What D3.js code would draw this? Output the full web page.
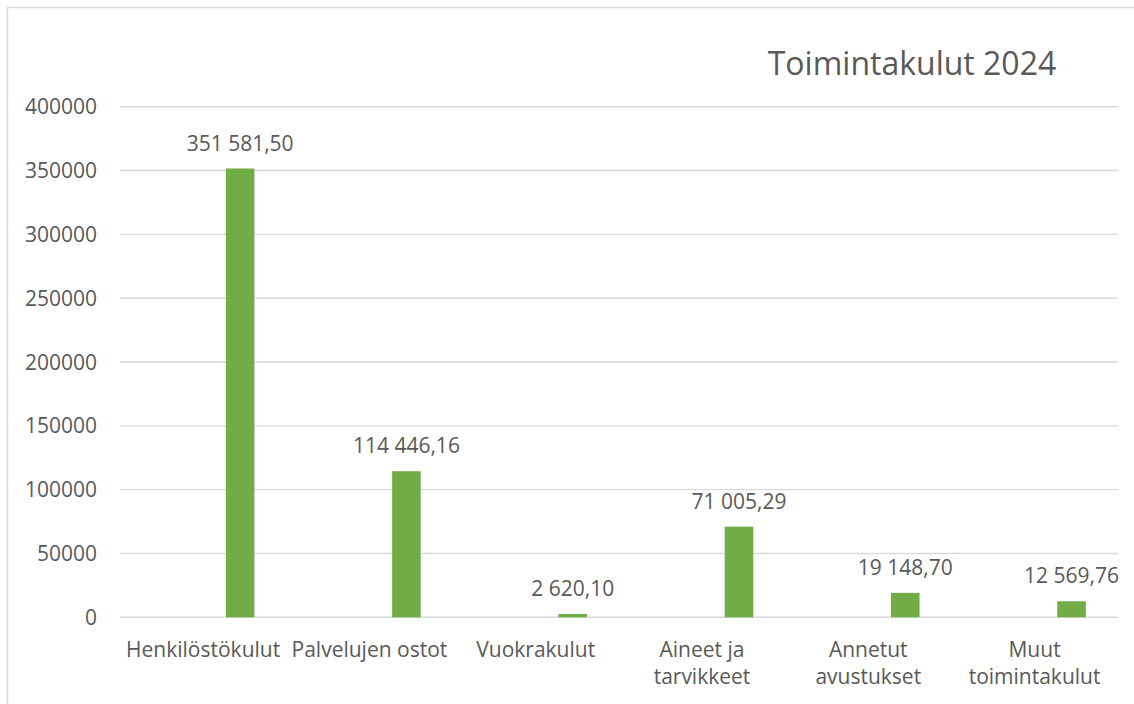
<!DOCTYPE html>
<html lang="fi">
<head>
  <meta charset="utf-8">
  <title>Toimintakulut 2024</title>
  <script src="https://d3js.org/d3.v7.min.js"></script>
  <style>
    body { margin: 0; background: #fff; }
    text { font-family: "Open Sans", sans-serif; fill: #595959; }
  </style>
</head>
<body>
<script>
  var categories = [["Henkilöstökulut"], ["Palvelujen ostot"], ["Vuokrakulut"],
                    ["Aineet ja", "tarvikkeet"], ["Annetut", "avustukset"], ["Muut", "toimintakulut"]];
  var values = [351581.50, 114446.16, 2620.10, 71005.29, 19148.70, 12569.76];
  var yTicks = [0, 50000, 100000, 150000, 200000, 250000, 300000, 350000, 400000];

  var width = 1134, height = 704;
  var plotLeft = 120, plotRight = 1117.7, plotTop = 106.7, plotBottom = 617.3;

  var fi = d3.formatLocale({ decimal: ",", thousands: " ", grouping: [3], currency: ["", ""] });
  var fmt = fi.format(",.2f");

  var svg = d3.select("body").append("svg")
      .attr("width", width)
      .attr("height", height);

  // chart border
  svg.append("rect")
      .attr("x", 7.5).attr("y", 7.5)
      .attr("width", width + 10).attr("height", height + 10)
      .attr("fill", "none")
      .attr("stroke", "#d9d9d9")
      .attr("stroke-width", 1.5);

  var x = d3.scaleBand()
      .domain(d3.range(categories.length))
      .range([plotLeft, plotRight]);

  var y = d3.scaleLinear()
      .domain([0, 400000])
      .range([plotBottom, plotTop]);

  // gridlines
  svg.selectAll(".grid")
      .data(yTicks)
      .enter().append("line")
      .attr("x1", plotLeft).attr("x2", plotRight)
      .attr("y1", function(d) { return y(d); })
      .attr("y2", function(d) { return y(d); })
      .attr("stroke", "#d9d9d9")
      .attr("stroke-width", 1.4);

  // y tick labels
  svg.selectAll(".ytick")
      .data(yTicks)
      .enter().append("text")
      .attr("x", 97)
      .attr("y", function(d) { return y(d); })
      .attr("dy", "0.36em")
      .attr("text-anchor", "end")
      .attr("font-size", 21)
      .text(function(d) { return d; });

  var barW = 28.6, offset = 37;
  function cx(i) { return x(i) + x.bandwidth() / 2 + offset; }

  svg.selectAll(".bar")
      .data(values)
      .enter().append("rect")
      .attr("x", function(d, i) { return cx(i) - barW / 2; })
      .attr("y", function(d) { return y(d); })
      .attr("width", barW)
      .attr("height", function(d) { return y(0) - y(d); })
      .attr("fill", "#70ad47");

  svg.selectAll(".val")
      .data(values)
      .enter().append("text")
      .attr("x", function(d, i) { return cx(i); })
      .attr("y", function(d) { return y(d) - 18; })
      .attr("text-anchor", "middle")
      .attr("font-size", 21)
      .text(function(d) { return fmt(d); });

  // category labels
  var cat = svg.selectAll(".cat")
      .data(categories)
      .enter().append("text")
      .attr("text-anchor", "middle")
      .attr("font-size", 21);
  cat.selectAll("tspan")
      .data(function(d, i) { return d.map(function(s) { return { s: s, i: i }; }); })
      .enter().append("tspan")
      .attr("x", function(d) { return x(d.i) + x.bandwidth() / 2; })
      .attr("y", function(d, j) { return 657 + j * 27; })
      .text(function(d) { return d.s; });

  svg.append("text")
      .attr("x", 912)
      .attr("y", 75)
      .attr("text-anchor", "middle")
      .attr("font-size", 32)
      .text("Toimintakulut 2024");
</script>
</body>
</html>
